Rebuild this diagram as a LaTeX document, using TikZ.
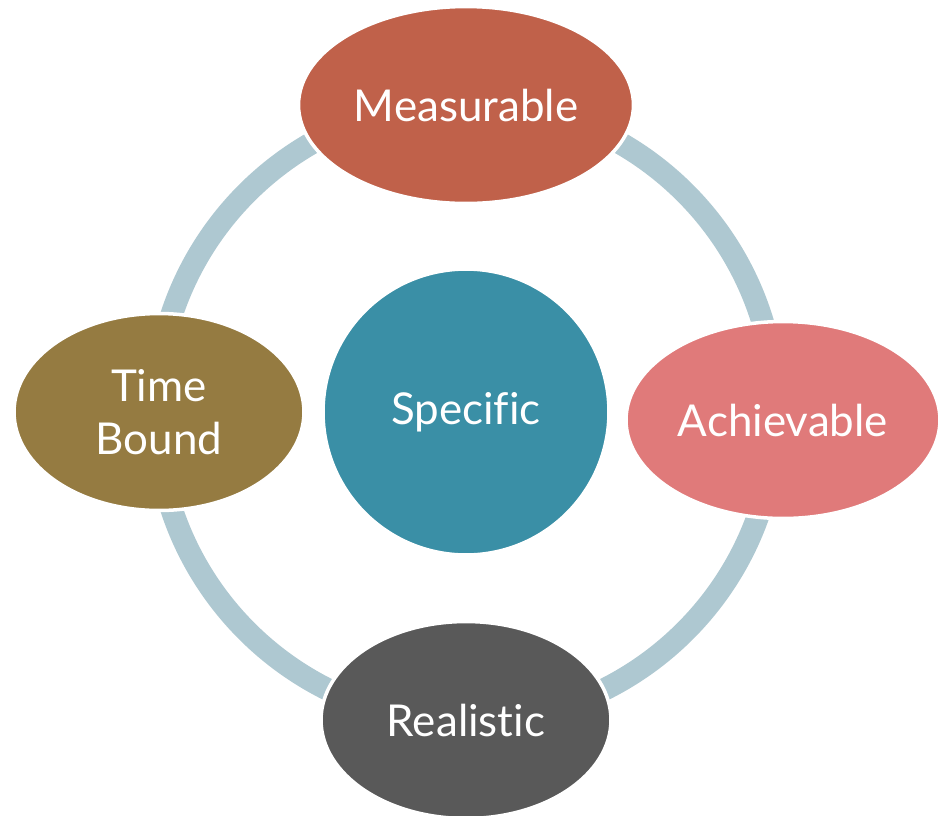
\documentclass[tikz,border=0pt]{standalone}
\usepackage{fontspec}
\setmainfont{Lato}[Ligatures=CommonOff]
\usetikzlibrary{shapes.geometric}
\definecolor{ringblue}{HTML}{AEC8D1}
\definecolor{measred}{HTML}{C0614A}
\definecolor{achpink}{HTML}{E07A7A}
\definecolor{timegold}{HTML}{957B41}
\definecolor{realgray}{HTML}{595959}
\definecolor{specteal}{HTML}{3A8FA6}
\begin{document}
\begin{tikzpicture}[x=0.02cm, y=-0.02cm,
  goal/.style={shape=ellipse, draw=white, line width=2pt, minimum height=3.94cm, inner sep=0pt, text=white, align=center, font=\fontsize{25}{30}\selectfont}]
\useasboundingbox (0,0) rectangle (938,816);
\coordinate (C) at (466,412);
\draw[ringblue, line width=0.45cm] (C) circle[radius=6.2cm];
\node[goal, fill=specteal, shape=circle, minimum size=5.72cm] (S) at (466,412) {Specific};
\node[goal, fill=measred, minimum width=6.7cm] (M) at (466,105) {Measurable};
\node[goal, fill=achpink, minimum width=6.28cm] (A) at (783,420) {Achievable};
\node[goal, fill=realgray, minimum width=5.8cm] (R) at (466,720) {Realistic};
\node[goal, fill=timegold, minimum width=5.8cm] (T) at (159,412) {Time\\Bound};
\end{tikzpicture}
\end{document}
